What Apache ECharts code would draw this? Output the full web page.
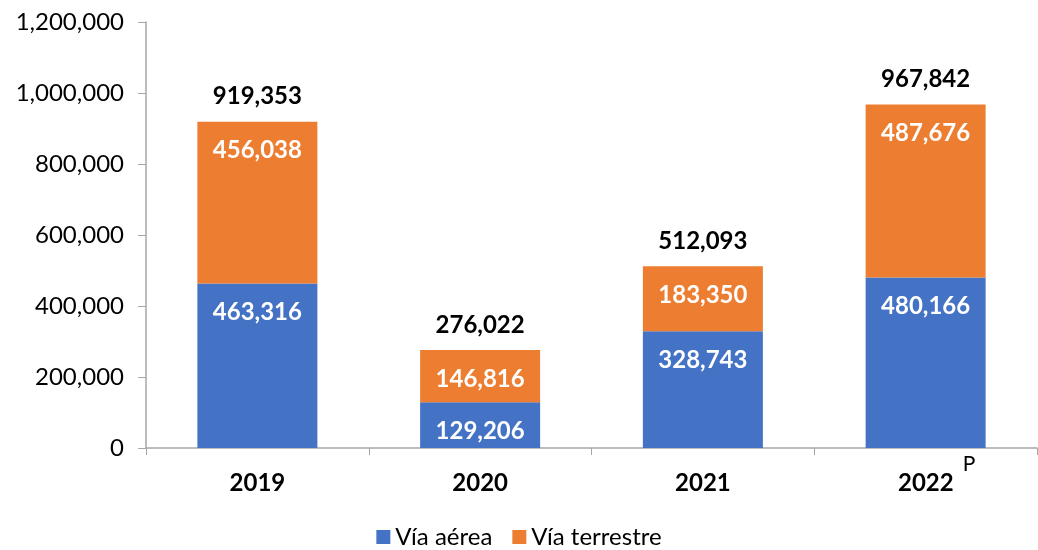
<!DOCTYPE html>
<html>
<head>
<meta charset="utf-8">
<script src="https://cdn.jsdelivr.net/npm/echarts@6/dist/echarts.min.js"></script>
<style>
  html, body { margin: 0; padding: 0; background: #fff; }
  #chart { width: 1038px; height: 550px; }
</style>
</head>
<body>
<div id="chart"></div>
<script>
var years = ['2019', '2020', '2021', '2022'];
var aerea = [463316, 129206, 328743, 480166];
var terrestre = [456038, 146816, 183350, 487676];
var totals = [919353, 276022, 512093, 967842];
var seriesNames = ['Vía aérea', 'Vía terrestre'];

var font = 'Lato';

function fmt(v) {
    return v.toLocaleString('en-US');
}

var chartDom = document.getElementById('chart');
var myChart = echarts.init(chartDom);
var option;

option = {
    animation: false,
    textStyle: { fontFamily: font },
    grid: {
        left: 146,
        right: 1,
        top: 22,
        bottom: 102
    },
    legend: {
        data: seriesNames,
        top: 520,
        left: 'center',
        itemWidth: 14,
        itemHeight: 14,
        itemGap: 20,
        icon: 'rect',
        textStyle: { fontFamily: font, fontSize: 24, color: '#000' }
    },
    xAxis: {
        type: 'category',
        data: years,
        axisLine: { lineStyle: { color: '#A6A6A6', width: 1.5 } },
        axisTick: { show: true, length: 7, lineStyle: { color: '#A6A6A6' } },
        axisLabel: {
            margin: 3,
            formatter: function (value) {
                if (value === '2022') {
                    return '{sp|}{b|' + value + '}{p|P}';
                }
                return '{b|' + value + '}';
            },
            rich: {
                b: { fontFamily: font, fontSize: 24, fontWeight: 'bold', color: '#000', lineHeight: 44, verticalAlign: 'bottom' },
                p: { fontFamily: font, fontSize: 21, color: '#000', lineHeight: 44, verticalAlign: 'top', padding: [3, 0, 0, 9] },
                sp: { width: 22, lineHeight: 44 }
            }
        }
    },
    yAxis: {
        type: 'value',
        min: 0,
        max: 1200000,
        interval: 200000,
        splitLine: { show: false },
        axisLine: { show: true, lineStyle: { color: '#A6A6A6', width: 1.5 } },
        axisTick: { show: true, length: 8, lineStyle: { color: '#A6A6A6' } },
        axisLabel: {
            margin: 22,
            fontFamily: font,
            fontSize: 24,
            color: '#000',
            formatter: function (v) { return fmt(v); }
        }
    },
    series: [
        {
            name: seriesNames[0],
            type: 'bar',
            stack: 'total',
            data: aerea,
            barWidth: 120,
            itemStyle: { color: '#4472C4' },
            label: {
                show: true,
                position: 'insideTop',
                distance: 17,
                color: '#fff',
                fontFamily: font,
                fontSize: 24,
                fontWeight: 'bold',
                formatter: function (p) { return fmt(p.value); }
            }
        },
        {
            name: seriesNames[1],
            type: 'bar',
            stack: 'total',
            data: terrestre,
            barWidth: 120,
            itemStyle: { color: '#ED7D31' },
            label: {
                show: true,
                position: 'insideTop',
                distance: 17,
                color: '#fff',
                fontFamily: font,
                fontSize: 24,
                fontWeight: 'bold',
                formatter: function (p) { return fmt(p.value); }
            }
        },
        {
            name: 'Total',
            type: 'bar',
            data: totals,
            barWidth: 120,
            barGap: '-100%',
            z: 0,
            itemStyle: { color: 'rgba(0,0,0,0)' },
            label: {
                show: true,
                position: 'top',
                distance: 13,
                color: '#000',
                fontFamily: font,
                fontSize: 24,
                fontWeight: 'bold',
                formatter: function (p) { return fmt(p.value); }
            }
        }
    ]
};

option && myChart.setOption(option);
</script>
</body>
</html>
